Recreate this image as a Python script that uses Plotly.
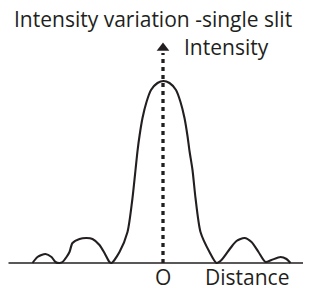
import plotly.graph_objects as go

# Data (distance offset from O, intensity)
distance = [-131, -126, -118, -112, -108, -104, -101, -97, -94, -91, -84, -77, -71, -64, -59, -54, -52,
            -44, -36, -31, -28, -26, -24, -21, -17, -12.5, -6, 0, 6, 12.5, 17, 21, 24, 26, 29, 32, 37, 46, 53,
            58, 67, 73, 81, 88, 95, 102, 108, 117, 123, 127]
intensity = [0, 6, 9, 6, 1, 0, 1, 6, 11, 20, 24, 25, 24, 18, 10, 1, 0,
             11, 31, 65, 93, 112, 127, 145, 161, 173, 180, 182, 180, 173, 161, 145, 127, 112, 93, 65, 31, 11, 0,
             3, 15, 22, 25, 21, 11, 1, 3, 6, 4, 0]

title_text = "Intensity variation -single slit"
y_label = "Intensity"
x_label = "Distance"
origin_label = "O"

FONT = "Open Sans"
INK = "#231f20"

fig = go.Figure()

# baseline (distance axis)
fig.add_shape(type="line", x0=-155, x1=139.5, y0=0, y1=0,
              line=dict(color=INK, width=1.6))
# dotted intensity axis
fig.add_shape(type="line", x0=-0.5, x1=-0.5, y0=0, y1=210,
              line=dict(color=INK, width=3.3, dash="4px,4px"))

fig.add_trace(go.Scatter(x=distance, y=intensity, mode="lines",
                         line=dict(color=INK, width=2.1, shape="spline", smoothing=0.7),
                         hoverinfo="skip"))
# arrow head
fig.add_trace(go.Scatter(x=[-0.5], y=[215], mode="markers",
                         marker=dict(symbol="triangle-up", size=11, color=INK),
                         hoverinfo="skip"))

fs = 21
fig.add_annotation(x=-152, y=244, text=title_text, showarrow=False, xanchor="left", yanchor="middle",
                   font=dict(family=FONT, size=fs, color=INK))
fig.add_annotation(x=18, y=216, text=y_label, showarrow=False, xanchor="left", yanchor="middle",
                   font=dict(family=FONT, size=fs, color=INK))
fig.add_annotation(x=-1, y=-14, text=origin_label, showarrow=False, xanchor="center", yanchor="middle",
                   font=dict(family=FONT, size=fs, color=INK))
fig.add_annotation(x=39, y=-14, text=x_label, showarrow=False, xanchor="left", yanchor="middle",
                   font=dict(family=FONT, size=fs, color=INK))

fig.update_layout(width=314, height=288, margin=dict(l=0, r=0, t=0, b=0),
                  paper_bgcolor="white", plot_bgcolor="white", showlegend=False,
                  xaxis=dict(range=[-163.5, 150.5], visible=False, fixedrange=True),
                  yaxis=dict(range=[-25, 263], visible=False, fixedrange=True))

fig.write_html("out.html", config={"displayModeBar": False},
               post_script="document.body.style.margin='0';document.body.style.overflow='hidden';")
